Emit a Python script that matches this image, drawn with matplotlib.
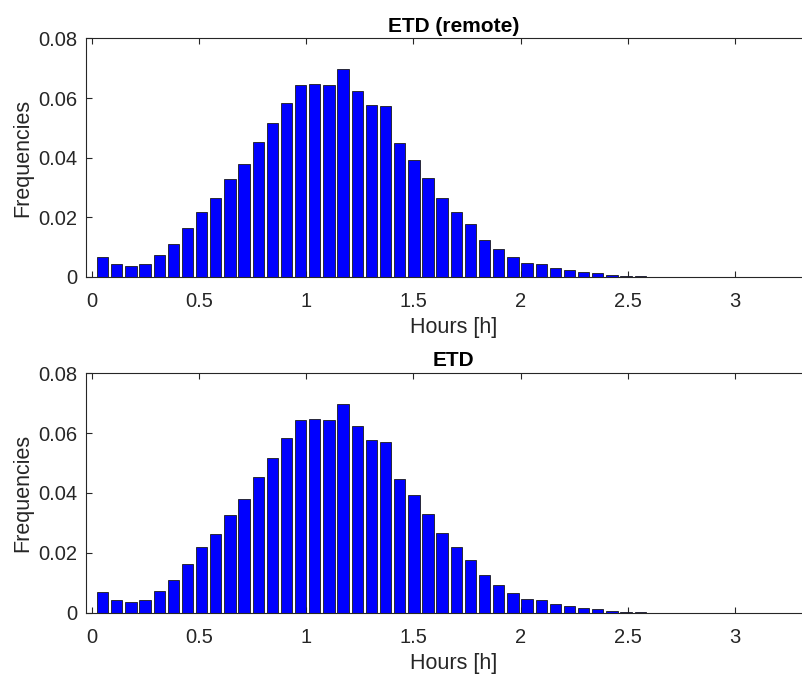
import numpy as np
import matplotlib
matplotlib.use("Agg")
import matplotlib.pyplot as plt

plt.rcParams['font.family'] = ['Liberation Sans', 'DejaVu Sans']

# bin centres (hours) and relative frequencies
hours = [0.050, 0.116, 0.182, 0.248, 0.314, 0.380, 0.446, 0.512, 0.578, 0.644,
         0.710, 0.776, 0.842, 0.908, 0.974, 1.040, 1.106, 1.172, 1.238, 1.304,
         1.370, 1.436, 1.502, 1.568, 1.634, 1.700, 1.766, 1.832, 1.898, 1.964,
         2.030, 2.096, 2.162, 2.228, 2.294, 2.360, 2.426, 2.492, 2.558]

freq_remote = [0.0067, 0.0042, 0.0037, 0.0042, 0.0072, 0.0109, 0.0164, 0.0218, 0.0263, 0.0328,
               0.0380, 0.0452, 0.0516, 0.0583, 0.0643, 0.0647, 0.0643, 0.0699, 0.0625, 0.0576,
               0.0572, 0.0448, 0.0392, 0.0330, 0.0266, 0.0218, 0.0176, 0.0125, 0.0094, 0.0067,
               0.0045, 0.0042, 0.0030, 0.0022, 0.0015, 0.0011, 0.0007, 0.0004, 0.0003]

freq_etd = [0.0068, 0.0042, 0.0037, 0.0042, 0.0072, 0.0109, 0.0164, 0.0218, 0.0263, 0.0328,
            0.0380, 0.0452, 0.0516, 0.0583, 0.0643, 0.0647, 0.0643, 0.0699, 0.0625, 0.0576,
            0.0572, 0.0448, 0.0392, 0.0330, 0.0266, 0.0218, 0.0176, 0.0125, 0.0094, 0.0067,
            0.0045, 0.0042, 0.0030, 0.0022, 0.0015, 0.0011, 0.0007, 0.0004, 0.0003]

titles = ["ETD (remote)", "ETD"]
xticks = [0, 0.5, 1, 1.5, 2, 2.5, 3]
xticklabels = ["0", "0.5", "1", "1.5", "2", "2.5", "3"]
yticks = [0, 0.02, 0.04, 0.06, 0.08]
yticklabels = ["0", "0.02", "0.04", "0.06", "0.08"]

bin_w = 0.066
grey = "#262626"

fig = plt.figure(figsize=(8.03, 6.75), dpi=100)
ax1 = fig.add_axes([0.107, 0.590, 0.915, 0.353])
ax2 = fig.add_axes([0.107, 0.0923, 0.915, 0.3547])

for ax, freq, title in zip([ax1, ax2], [freq_remote, freq_etd], titles):
    ax.bar(hours, freq, width=0.8 * bin_w, color="#0000ff",
           edgecolor="#1a1a1a", linewidth=0.6, zorder=2)
    ax.set_xlim(-0.028, 3.4)
    ax.set_ylim(0, 0.08)
    ax.set_xticks(xticks)
    ax.set_xticklabels(xticklabels)
    ax.set_yticks(yticks)
    ax.set_yticklabels(yticklabels)
    ax.tick_params(direction="in", top=True, right=False, length=4.5,
                   width=0.8, colors=grey, labelsize=14.5)
    ax.tick_params(axis="x", pad=11)
    ax.tick_params(axis="y", pad=6)
    for s in ax.spines.values():
        s.set_color(grey)
        s.set_linewidth(0.8)
    ax.spines["right"].set_visible(False)
    ax.set_title(title, fontsize=15, fontweight="bold", pad=5)
    ax.set_xlabel("Hours [h]", fontsize=15.5, color=grey, labelpad=4)
    ax.set_ylabel("Frequencies", fontsize=15.5, color=grey, labelpad=4)

fig.savefig("out.png", dpi=100)
